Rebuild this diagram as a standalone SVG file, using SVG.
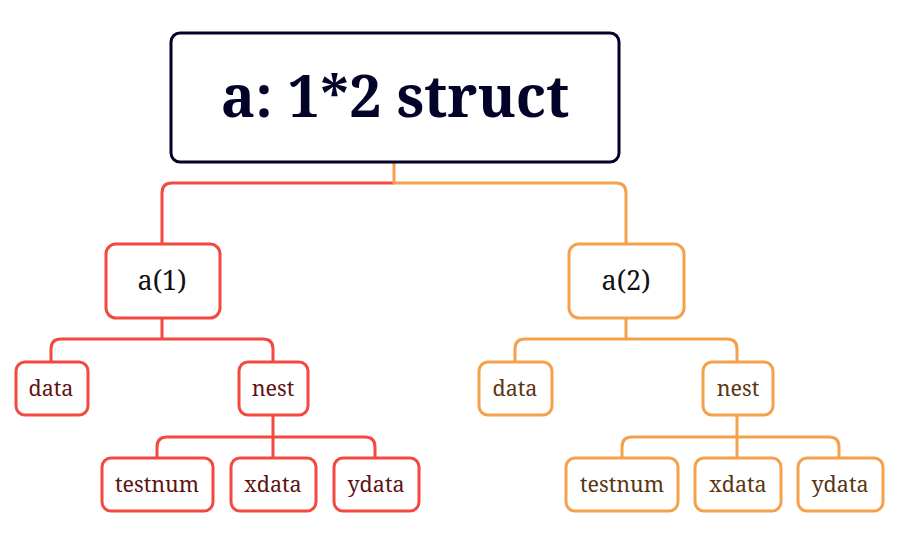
<svg xmlns="http://www.w3.org/2000/svg" width="914" height="560" viewBox="0 0 914 560">
<style>
text{font-family:"Noto Serif","DejaVu Serif","Liberation Serif",serif;text-anchor:middle}
.r{fill:#fff;stroke:#f4493f;stroke-width:3}
.o{fill:#fff;stroke:#f5a04b;stroke-width:3}
.lr{fill:none;stroke:#f4493f;stroke-width:3}
.lo{fill:none;stroke:#f5a04b;stroke-width:3}
.tr{fill:#5e1414;font-size:21.5px}
.to{fill:#5a3612;font-size:21.5px}
.mid{fill:#111;font-size:27px}
</style>
<rect width="914" height="560" fill="#fff"/>
<g id="connectors">
<path class="lr" d="M394 183 H172 Q162 183 162 193 V244"/>
<path class="lo" d="M394 162 V183 H616 Q626 183 626 193 V244"/>
<path class="lr" d="M162 319 V339 M162 339 H61 Q51 339 51 349 V362 M162 339 H263 Q273 339 273 349 V362"/>
<path class="lr" d="M273 415 V458 M273 437 H167 Q157 437 157 447 V458 M273 437 H365 Q375 437 375 447 V458"/>
<path class="lo" d="M626 319 V339 M626 339 H525 Q515 339 515 349 V362 M626 339 H727 Q737 339 737 349 V362"/>
<path class="lo" d="M737 415 V458 M737 437 H632 Q622 437 622 447 V458 M737 437 H829 Q839 437 839 447 V458"/>
</g>
<g id="root">
<rect x="171" y="33" width="448" height="129" rx="9" fill="#fff" stroke="#03032a" stroke-width="3"/>
<text x="395" y="117" font-size="57.5" font-weight="bold" fill="#03032a">a: 1*2 struct</text>
</g>
<g id="a1">
<rect class="r" x="106" y="244" width="114" height="74" rx="10"/>
<text class="mid" x="162" y="290">a(1)</text>
</g>
<g id="a1-data">
<rect class="r" x="16" y="362" width="72" height="53" rx="9"/>
<text class="tr" x="51" y="396">data</text>
</g>
<g id="a1-nest">
<rect class="r" x="239" y="362" width="69" height="53" rx="9"/>
<text class="tr" x="273" y="396">nest</text>
</g>
<g id="a1-testnum">
<rect class="r" x="102" y="458" width="111" height="53" rx="9"/>
<text class="tr" x="157" y="492">testnum</text>
</g>
<g id="a1-xdata">
<rect class="r" x="231" y="458" width="85" height="53" rx="9"/>
<text class="tr" x="273" y="492">xdata</text>
</g>
<g id="a1-ydata">
<rect class="r" x="334" y="458" width="85" height="53" rx="9"/>
<text class="tr" x="376" y="492">ydata</text>
</g>
<g id="a2">
<rect class="o" x="569" y="244" width="115" height="74" rx="10"/>
<text class="mid" x="626" y="290">a(2)</text>
</g>
<g id="a2-data">
<rect class="o" x="479" y="362" width="73" height="53" rx="9"/>
<text class="to" x="515" y="396">data</text>
</g>
<g id="a2-nest">
<rect class="o" x="703" y="362" width="70" height="53" rx="9"/>
<text class="to" x="738" y="396">nest</text>
</g>
<g id="a2-testnum">
<rect class="o" x="566" y="458" width="112" height="53" rx="9"/>
<text class="to" x="622" y="492">testnum</text>
</g>
<g id="a2-xdata">
<rect class="o" x="695" y="458" width="86" height="53" rx="9"/>
<text class="to" x="738" y="492">xdata</text>
</g>
<g id="a2-ydata">
<rect class="o" x="798" y="458" width="85" height="53" rx="9"/>
<text class="to" x="840" y="492">ydata</text>
</g>
</svg>
